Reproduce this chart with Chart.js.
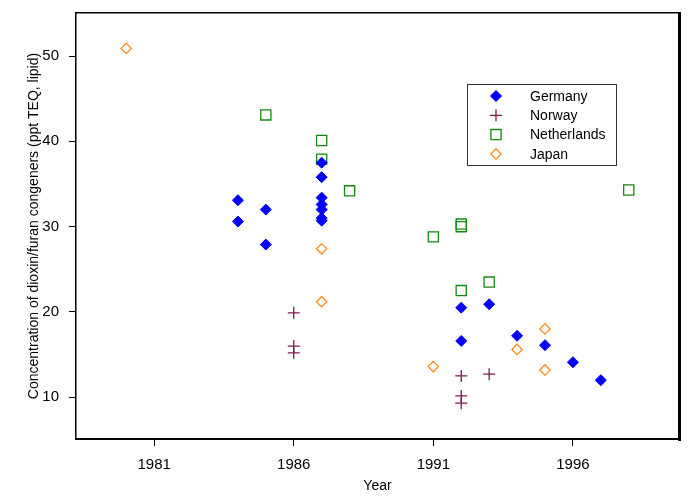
<!DOCTYPE html>
<html>
<head>
<meta charset="utf-8">
<script src="https://cdn.jsdelivr.net/npm/chart.js@4.4.1/dist/chart.umd.min.js"></script>
<style>
  html, body { margin: 0; padding: 0; background: #fff; }
  #wrap { width: 690px; height: 501px; }
</style>
</head>
<body>
<div id="wrap"><canvas id="chart" width="690" height="501"></canvas></div>
<script>
// values
const germanyYears = [1984, 1984, 1985, 1985, 1987, 1987, 1987, 1987, 1987, 1987, 1987, 1992, 1992, 1993, 1994, 1995, 1996, 1997];
const germanyValues = [33.1, 30.6, 32.0, 27.9, 37.5, 35.8, 33.4, 32.6, 32.0, 31.0, 30.7, 20.5, 16.6, 20.9, 17.2, 16.1, 14.1, 12.0];

const norwayYears = [1986, 1986, 1986, 1992, 1992, 1992, 1993];
const norwayValues = [19.9, 16.0, 15.2, 12.5, 10.15, 9.3, 12.7];

const netherlandsYears = [1985, 1987, 1987, 1988, 1991, 1992, 1992, 1992, 1993, 1998];
const netherlandsValues = [43.1, 40.1, 37.9, 34.2, 28.8, 30.3, 30.0, 22.5, 23.5, 34.3];

const japanYears = [1980, 1987, 1987, 1991, 1994, 1995, 1995];
const japanValues = [50.9, 27.4, 21.2, 13.6, 15.6, 18.0, 13.2];

const xTickYears = [1981, 1986, 1991, 1996];
const yTicks = [10, 20, 30, 40, 50];

const FONT = 'Arial, "Liberation Sans", sans-serif';

function pts(xs, ys) {
  return xs.map((x, i) => ({ x: x, y: ys[i] }));
}

const datasets = [
  { label: 'Germany', data: pts(germanyYears, germanyValues), pointStyle: 'rectRot', pointRadius: 5.5,
    backgroundColor: '#0000ff', borderColor: '#0000ff', borderWidth: 1 },
  { label: 'Norway', data: pts(norwayYears, norwayValues), pointStyle: 'cross', pointRadius: 6,
    backgroundColor: 'rgba(0,0,0,0)', borderColor: '#7d1b4f', borderWidth: 1.3 },
  { label: 'Netherlands', data: pts(netherlandsYears, netherlandsValues), pointStyle: 'rect', pointRadius: 7.2,
    backgroundColor: 'rgba(0,0,0,0)', borderColor: '#108a10', borderWidth: 1.3 },
  { label: 'Japan', data: pts(japanYears, japanValues), pointStyle: 'rectRot', pointRadius: 5.2,
    backgroundColor: 'rgba(0,0,0,0)', borderColor: '#ff8c1a', borderWidth: 1.3 }
];

// box around the plot, heavier on right and bottom
const framePlugin = {
  id: 'frame',
  afterDraw(chart) {
    const ctx = chart.ctx;
    const a = chart.chartArea;
    ctx.save();
    ctx.fillStyle = '#000';
    ctx.fillRect(a.left - 1, a.top - 1, 1.5, a.bottom - a.top + 1);
    ctx.fillRect(a.left - 1, a.top - 1, a.right - a.left + 1, 1.5);
    ctx.fillRect(a.right - 1, a.top - 1, 3, a.bottom - a.top + 3);
    ctx.fillRect(a.left - 1, a.bottom - 1, a.right - a.left + 3, 2);
    ctx.restore();
  }
};

// legend box inside the plot
const legendPlugin = {
  id: 'boxLegend',
  afterDraw(chart) {
    const ctx = chart.ctx;
    ctx.save();
    ctx.strokeStyle = '#333';
    ctx.lineWidth = 1;
    ctx.strokeRect(467.5, 84.5, 149, 81);
    ctx.font = '14px ' + FONT;
    ctx.textBaseline = 'middle';
    chart.data.datasets.forEach((ds, i) => {
      const y = 96 + i * 19.3;
      ctx.fillStyle = ds.backgroundColor;
      ctx.strokeStyle = ds.borderColor;
      ctx.lineWidth = ds.borderWidth;
      Chart.helpers.drawPoint(ctx, { pointStyle: ds.pointStyle, radius: ds.pointRadius, rotation: 0, borderWidth: ds.borderWidth }, 496, y);
      ctx.fillStyle = '#000';
      ctx.fillText(ds.label, 530, y + 1);
    });
    ctx.restore();
  }
};

new Chart(document.getElementById('chart'), {
  type: 'scatter',
  data: { datasets: datasets },
  options: {
    responsive: false,
    animation: false,
    layout: { padding: { top: 13, right: 11, left: 0, bottom: 0 } },
    plugins: { legend: { display: false }, tooltip: { enabled: false } },
    scales: {
      x: {
        type: 'linear',
        min: 1978.2,
        max: 1999.8,
        afterFit(s) { s.height = 62; s.paddingLeft = 0; s.paddingRight = 0; },
        afterBuildTicks(s) { s.ticks = xTickYears.map(v => ({ value: v })); },
        border: { display: false },
        grid: { drawOnChartArea: false, drawTicks: true, tickLength: 7, color: '#000', lineWidth: 1 },
        ticks: { color: '#000', font: { family: FONT, size: 15 }, padding: 10, maxRotation: 0,
          callback: v => String(v) },
        title: { display: true, text: 'Year', color: '#000', font: { family: FONT, size: 14 },
          padding: { top: 0, bottom: 6 } }
      },
      y: {
        min: 5.1,
        max: 55.05,
        afterFit(s) { s.width = 76; s.paddingTop = 0; s.paddingBottom = 0; },
        afterBuildTicks(s) { s.ticks = yTicks.map(v => ({ value: v })); },
        border: { display: false },
        grid: { drawOnChartArea: false, drawTicks: true, tickLength: 7, color: '#000', lineWidth: 1 },
        ticks: { color: '#000', font: { family: FONT, size: 15 }, padding: 10 },
        title: { display: true, text: 'Concentration of dioxin/furan congeners (ppt TEQ, lipid)', color: '#000',
          font: { family: FONT, size: 14 }, padding: { top: 26, bottom: 0 } }
      }
    }
  },
  plugins: [framePlugin, legendPlugin]
});
</script>
</body>
</html>
